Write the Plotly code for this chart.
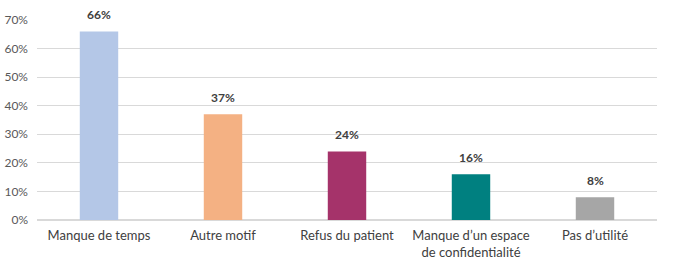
import plotly.graph_objects as go

categories = ["Manque de temps", "Autre motif", "Refus du patient",
              "Manque d’un espace<br>de confidentialité", "Pas d’utilité"]
values = [66, 37, 24, 16, 8]
colors = ["#B4C7E7", "#F4B183", "#A5336A", "#008080", "#A6A6A6"]
tick_vals = [0, 10, 20, 30, 40, 50, 60, 70]
tick_text = [f"{v}%" for v in tick_vals]

fig = go.Figure(go.Bar(
    x=categories, y=values,
    marker=dict(color=colors, line=dict(width=0)),
    width=0.31,
    cliponaxis=False,
))
for c, v in zip(categories, values):
    fig.add_annotation(x=c, y=v, text=f"<b>{v}%</b>", showarrow=False,
                       yanchor="bottom", yshift=7,
                       font=dict(size=12, color="#404040"))
fig.update_layout(
    width=686, height=261,
    margin=dict(l=37, r=29, t=20, b=41),
    paper_bgcolor="white", plot_bgcolor="white",
    font=dict(family="Lato, Open Sans, sans-serif", size=11, color="#595959"),
    showlegend=False,
    xaxis=dict(showgrid=False, showline=False, ticks="", ticklabelstandoff=6,
               automargin=False,
               tickfont=dict(size=13, color="#404040")),
    yaxis=dict(range=[0, 70], tickvals=tick_vals, ticktext=tick_text,
               showgrid=True, gridcolor="#D9D9D9", gridwidth=1,
               zeroline=True, zerolinecolor="#D9D9D9", ticks="",
               ticklabelstandoff=8, automargin=False,
               tickfont=dict(size=12, color="#595959")),
)
fig.write_html("out.html")
